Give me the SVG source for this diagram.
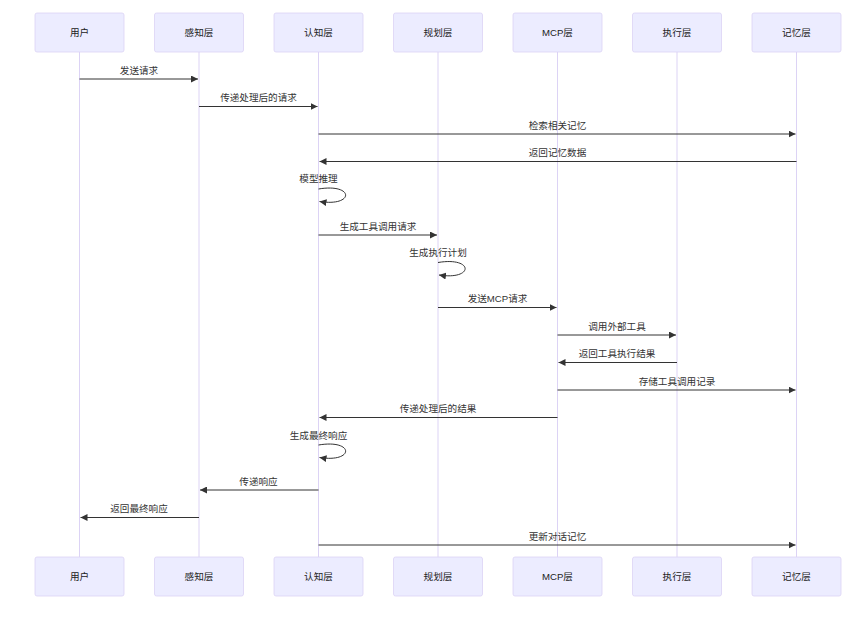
<svg xmlns="http://www.w3.org/2000/svg" width="865" height="620" viewBox="0 0 865 620">
<style>
.actor{fill:#ECECFF;stroke:#DCD3F5;stroke-width:0.8}
.life{stroke:#DCD3F5;stroke-width:1}
.at{font-family:"Liberation Sans","Noto Sans CJK SC",sans-serif;font-size:9.6px;fill:#222;text-anchor:middle}
.msg{stroke:#333;stroke-width:1;fill:none}
.mt{font-family:"Liberation Sans","Noto Sans CJK SC",sans-serif;font-size:9.6px;fill:#333;text-anchor:middle}
</style>
<defs>
<marker id="ah" viewBox="0 0 10 10" refX="10" refY="5" markerWidth="7" markerHeight="7" markerUnits="userSpaceOnUse" orient="auto">
<path d="M0,0 L10,5 L0,10 Z" fill="#333"/>
</marker>
</defs>
<rect width="865" height="620" fill="#fff"/>
<g id="lifelines">
<line class="life" x1="79.5" y1="52" x2="79.5" y2="557"/>
<line class="life" x1="199" y1="52" x2="199" y2="557"/>
<line class="life" x1="318.5" y1="52" x2="318.5" y2="557"/>
<line class="life" x1="438" y1="52" x2="438" y2="557"/>
<line class="life" x1="557.5" y1="52" x2="557.5" y2="557"/>
<line class="life" x1="677" y1="52" x2="677" y2="557"/>
<line class="life" x1="796.5" y1="52" x2="796.5" y2="557"/>
</g>
<g id="actor-user"><rect class="actor" x="35" y="13" width="89" height="39" rx="2"/><text class="at" x="79.5" y="36">用户</text>
<rect class="actor" x="35" y="557" width="89" height="39" rx="2"/><text class="at" x="79.5" y="580">用户</text></g>
<g id="actor-perception"><rect class="actor" x="154.5" y="13" width="89" height="39" rx="2"/><text class="at" x="199" y="36">感知层</text>
<rect class="actor" x="154.5" y="557" width="89" height="39" rx="2"/><text class="at" x="199" y="580">感知层</text></g>
<g id="actor-cognition"><rect class="actor" x="274" y="13" width="89" height="39" rx="2"/><text class="at" x="318.5" y="36">认知层</text>
<rect class="actor" x="274" y="557" width="89" height="39" rx="2"/><text class="at" x="318.5" y="580">认知层</text></g>
<g id="actor-planning"><rect class="actor" x="393.5" y="13" width="89" height="39" rx="2"/><text class="at" x="438" y="36">规划层</text>
<rect class="actor" x="393.5" y="557" width="89" height="39" rx="2"/><text class="at" x="438" y="580">规划层</text></g>
<g id="actor-mcp"><rect class="actor" x="513" y="13" width="89" height="39" rx="2"/><text class="at" x="557.5" y="36">MCP层</text>
<rect class="actor" x="513" y="557" width="89" height="39" rx="2"/><text class="at" x="557.5" y="580">MCP层</text></g>
<g id="actor-exec"><rect class="actor" x="632.5" y="13" width="89" height="39" rx="2"/><text class="at" x="677" y="36">执行层</text>
<rect class="actor" x="632.5" y="557" width="89" height="39" rx="2"/><text class="at" x="677" y="580">执行层</text></g>
<g id="actor-memory"><rect class="actor" x="752" y="13" width="89" height="39" rx="2"/><text class="at" x="796.5" y="36">记忆层</text>
<rect class="actor" x="752" y="557" width="89" height="39" rx="2"/><text class="at" x="796.5" y="580">记忆层</text></g>
<g id="connectors">
<line class="msg" x1="79.5" y1="79" x2="198" y2="79" marker-end="url(#ah)"/>
<text class="mt" x="139" y="74">发送请求</text>
<line class="msg" x1="199" y1="106.5" x2="317.5" y2="106.5" marker-end="url(#ah)"/>
<text class="mt" x="258.5" y="101">传递处理后的请求</text>
<line class="msg" x1="318.5" y1="134" x2="795.5" y2="134" marker-end="url(#ah)"/>
<text class="mt" x="557.5" y="128.5">检索相关记忆</text>
<line class="msg" x1="796.5" y1="161.5" x2="319.5" y2="161.5" marker-end="url(#ah)"/>
<text class="mt" x="557.5" y="156">返回记忆数据</text>
<path class="msg" d="M318.5,189 C354.5,183 354.5,207 319.5,201.5" marker-end="url(#ah)"/>
<text class="mt" x="318.5" y="182">模型推理</text>
<line class="msg" x1="318.5" y1="235" x2="437" y2="235" marker-end="url(#ah)"/>
<text class="mt" x="378" y="229.5">生成工具调用请求</text>
<path class="msg" d="M438,262.5 C474,256.5 474,280.5 439,275" marker-end="url(#ah)"/>
<text class="mt" x="438" y="256">生成执行计划</text>
<line class="msg" x1="438" y1="307.5" x2="556.5" y2="307.5" marker-end="url(#ah)"/>
<text class="mt" x="497.5" y="302">发送MCP请求</text>
<line class="msg" x1="557.5" y1="335" x2="676" y2="335" marker-end="url(#ah)"/>
<text class="mt" x="617" y="329.5">调用外部工具</text>
<line class="msg" x1="677" y1="362.5" x2="558.5" y2="362.5" marker-end="url(#ah)"/>
<text class="mt" x="617" y="357">返回工具执行结果</text>
<line class="msg" x1="557.5" y1="390" x2="795.5" y2="390" marker-end="url(#ah)"/>
<text class="mt" x="677" y="384.5">存储工具调用记录</text>
<line class="msg" x1="557.5" y1="417.5" x2="319.5" y2="417.5" marker-end="url(#ah)"/>
<text class="mt" x="438" y="412">传递处理后的结果</text>
<path class="msg" d="M318.5,445 C354.5,439 354.5,463 319.5,457.5" marker-end="url(#ah)"/>
<text class="mt" x="318.5" y="438.5">生成最终响应</text>
<line class="msg" x1="318.5" y1="490" x2="200" y2="490" marker-end="url(#ah)"/>
<text class="mt" x="258.5" y="484.5">传递响应</text>
<line class="msg" x1="199" y1="517.5" x2="80.5" y2="517.5" marker-end="url(#ah)"/>
<text class="mt" x="139" y="512">返回最终响应</text>
<line class="msg" x1="318.5" y1="545" x2="795.5" y2="545" marker-end="url(#ah)"/>
<text class="mt" x="557.5" y="539.5">更新对话记忆</text>
</g>
</svg>
